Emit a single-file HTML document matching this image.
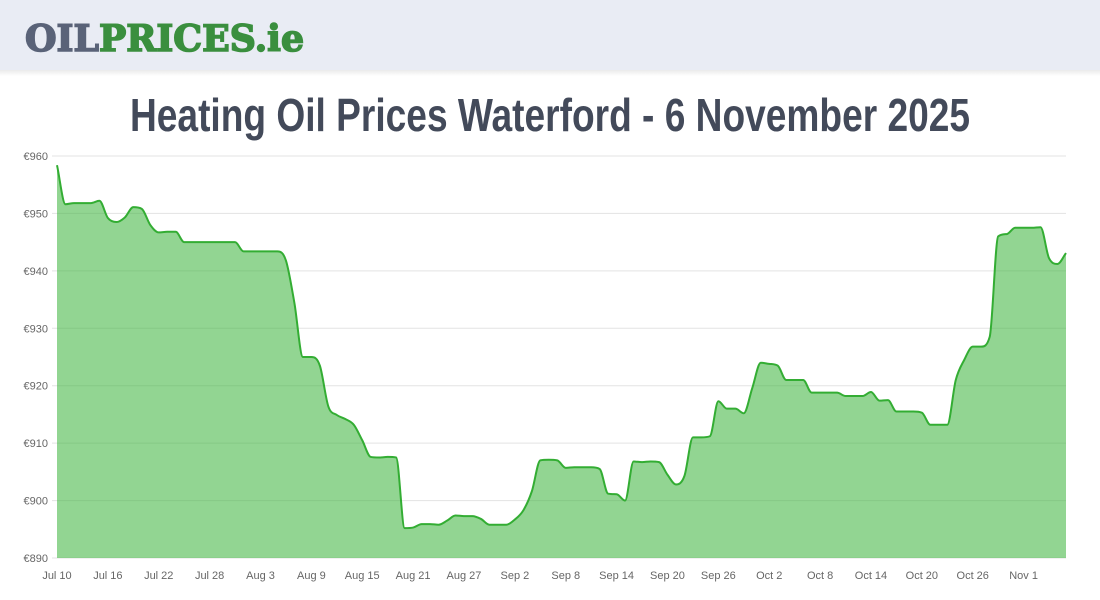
<!DOCTYPE html>
<html><head><meta charset="utf-8"><style>
html,body{margin:0;padding:0;background:#fff;}
svg{display:block;font-family:"Liberation Sans",sans-serif;}
</style></head><body>
<svg id="c" width="1100" height="600">
<defs><linearGradient id="sh" x1="0" y1="0" x2="0" y2="1"><stop offset="0" stop-color="#000" stop-opacity="0.08"/><stop offset="1" stop-color="#000" stop-opacity="0"/></linearGradient></defs>
<rect x="0" y="0" width="1100" height="70" fill="#e9ecf4"/>
<rect x="0" y="70" width="1100" height="6" fill="url(#sh)"/>
<text x="25" y="51" font-family="DejaVu Serif,Liberation Serif,serif" font-weight="bold" font-size="36" textLength="279" lengthAdjust="spacingAndGlyphs" stroke-width="1.6"><tspan fill="#5a6378" stroke="#5a6378">OIL</tspan><tspan fill="#3a8f3e" stroke="#3a8f3e">PRICES.ie</tspan></text>
<text x="550" y="131" text-anchor="middle" font-size="46" font-weight="bold" fill="#434a5a" textLength="840" lengthAdjust="spacingAndGlyphs">Heating Oil Prices Waterford - 6 November 2025</text>
<g id="grid"></g><g id="area"></g><g id="xl"></g><g id="yl"></g>
</svg>
<script>
const startLabel = "Jul 10";
const xTickLabels = ["Jul 10","Jul 16","Jul 22","Jul 28","Aug 3","Aug 9","Aug 15","Aug 21","Aug 27","Sep 2","Sep 8","Sep 14","Sep 20","Sep 26","Oct 2","Oct 8","Oct 14","Oct 20","Oct 26","Nov 1"];
const yTicks = [890,900,910,920,930,940,950,960];
const prices = [958.4,951.6,951.8,951.8,951.8,952.2,949.2,948.5,949.3,951.1,950.8,948,946.7,946.8,946.8,945,945,945,945,945,945,945,943.4,943.4,943.4,943.4,943.4,941.8,934.4,925,925,923.5,916.4,914.9,914.2,913.2,910.5,907.6,907.5,907.6,907.5,895.2,895.3,895.9,895.9,895.8,896.5,897.4,897.3,897.3,896.8,895.8,895.8,895.8,896.7,898.3,901.6,907,907.1,907,905.7,905.8,905.8,905.8,905.5,901.2,901.1,900,906.8,906.7,906.8,906.7,904.5,902.8,904.3,911,911,911.2,917.3,916,916,915.2,919.6,924,923.8,923.5,921,921,921,918.8,918.8,918.8,918.8,918.2,918.2,918.2,918.9,917.4,917.5,915.5,915.5,915.5,915.3,913.2,913.2,913.2,921,924.5,926.8,926.8,928.5,946,946.4,947.5,947.5,947.5,947.6,942.2,941.2,943.1];

const X0=57,X1=1066,Y0=558,Y1=156,YMIN=890,YMAX=960;
const n=prices.length;
const xs=i=>X0+i*(X1-X0)/(n-1);
const ys=v=>Y0-(v-YMIN)*(Y0-Y1)/(YMAX-YMIN);
const NS="http://www.w3.org/2000/svg";
function mk(t,a,p){const e=document.createElementNS(NS,t);for(const k in a)e.setAttribute(k,a[k]);p.appendChild(e);return e;}
const grid=document.getElementById('grid'),yl=document.getElementById('yl'),xl=document.getElementById('xl'),area=document.getElementById('area');
yTicks.forEach(v=>{
  const l=mk('line',{x1:X0-5,x2:X1,y1:ys(v),y2:ys(v),stroke:'#e3e3e3','stroke-width':1},grid);
  
  
  const t=mk('text',{x:X0-9,y:ys(v)+4,'text-anchor':'end','font-size':11,fill:'#666'},yl);
  t.textContent='€'+v;
  
  
});
xTickLabels.forEach((s,k)=>{
  const t=mk('text',{x:xs(k*6),y:579,'text-anchor':'middle','font-size':11,fill:'#666'},xl);
  t.textContent=s;
  
  
});
const px=prices.map((v,i)=>xs(i)),py=prices.map(v=>ys(v));
const d=[],m=new Array(n);
for(let i=0;i<n-1;i++)d.push((py[i+1]-py[i])/(px[i+1]-px[i]));
m[0]=d[0];m[n-1]=d[n-2];
for(let i=1;i<n-1;i++){m[i]=(d[i-1]*d[i]<=0)?0:(d[i-1]+d[i])/2;}
for(let i=0;i<n-1;i++){if(d[i]===0){m[i]=0;m[i+1]=0;continue;}const a=m[i]/d[i],b=m[i+1]/d[i],s=a*a+b*b;if(s>9){const t=3/Math.sqrt(s);m[i]=t*a*d[i];m[i+1]=t*b*d[i];}}
let p='M'+px[0]+','+py[0];
for(let i=0;i<n-1;i++){const h=(px[i+1]-px[i])/3;p+=' C'+(px[i]+h)+','+(py[i]+m[i]*h)+' '+(px[i+1]-h)+','+(py[i+1]-m[i+1]*h)+' '+px[i+1]+','+py[i+1];}
const fill=mk('path',{d:p+' L'+X1+','+Y0+' L'+X0+','+Y0+' Z',fill:'rgba(60,180,60,0.56)',stroke:'none'},area);


const line=mk('path',{d:p,fill:'none',stroke:'#33ad33','stroke-width':2},area);


</script>
</body></html>
